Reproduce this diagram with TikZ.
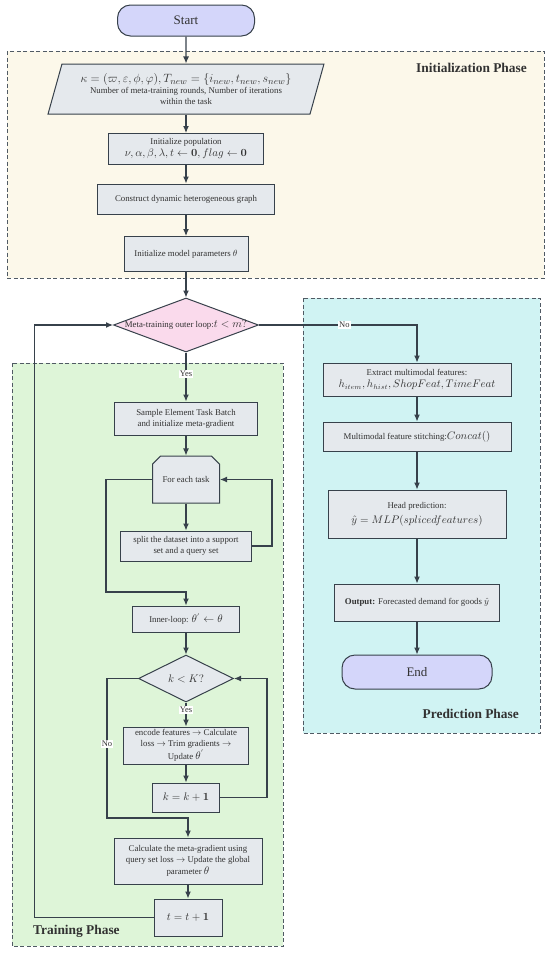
\documentclass[tikz,border=0pt]{standalone}
\usepackage[no-math]{fontspec}
\setmainfont{Liberation Serif}
\usepackage{amsmath, amssymb}
\usetikzlibrary{shapes.geometric, shapes.misc, arrows.meta, positioning, calc}
\definecolor{boxfill}{RGB}{229, 233, 237}
\definecolor{boxline}{RGB}{55, 65, 75}
\definecolor{termfill}{RGB}{212, 214, 250}
\definecolor{loopfill}{RGB}{250, 218, 236}
\definecolor{initfill}{RGB}{252, 248, 234}
\definecolor{trainfill}{RGB}{222, 245, 216}
\definecolor{predfill}{RGB}{208, 243, 243}
\definecolor{phaseline}{RGB}{80, 90, 100}
\definecolor{textgray}{RGB}{50, 50, 50}
\newcommand{\mth}[1]{{\fontsize{10.6}{13}\selectfont$#1$}}
\newcommand{\mbig}[1]{{\fontsize{11}{13}\selectfont$#1$}}

\begin{document}
\begin{tikzpicture}[
  x=1pt, y=-1pt,
  box/.style={draw=boxline, fill=boxfill, line width=1pt, align=center, inner sep=2pt, text=textgray, font=\fontsize{8.8}{11}\selectfont},
  term/.style={box, fill=termfill, rounded corners=13pt, font=\fontsize{13}{15}\selectfont},
  io/.style={box, trapezium, trapezium left angle=71, trapezium right angle=109, trapezium stretches=true},
  decide/.style={box, diamond, inner sep=0pt},
  loophead/.style={box, chamfered rectangle, chamfered rectangle corners={north west, north east}, chamfered rectangle xsep=9pt},
  phase/.style={draw=phaseline, dash pattern=on 4pt off 2.5pt, line width=1pt},
  phaselbl/.style={inner sep=0pt, text=textgray, font=\fontsize{13.4}{15}\selectfont\bfseries},
  arr/.style={-{Latex[length=7pt,width=6pt]}, line width=1.1pt, draw=boxline},
  lbl/.style={fill=white, inner sep=1pt, text=textgray, font=\fontsize{8.5}{10}\selectfont}
]
  \useasboundingbox (0,0) rectangle (550,953);

  \draw[phase, fill=initfill] (7,51) rectangle (544,278);
  \draw[phase, fill=trainfill] (12,363) rectangle (283,946);
  \draw[phase, fill=predfill] (303,298) rectangle (540,733);
  \node[phaselbl, anchor=east] (initlbl) at (527,68) {Initialization Phase};
  \node[phaselbl, anchor=west] (trainlbl) at (33,931) {Training Phase};
  \node[phaselbl, anchor=east] (predlbl) at (519,714) {Prediction Phase};

  \node[term, minimum width=137, minimum height=31] (start) at (186,20.5) {Start};
  \node[io, minimum width=276, minimum height=50] (params) at (186,89) {
    {\fontsize{12.2}{14}\selectfont$\kappa = (\varpi, \varepsilon, \phi, \varphi), T_{new} = \{i_{new}, t_{new}, s_{new}\}$}\\
    Number of meta-training rounds, Number of iterations\\
    within the task
  };
  \node[box, minimum width=155, minimum height=31] (initpop) at (186,149) {
    Initialize population\\[1pt]
    \mbig{\nu, \alpha, \beta, \lambda, t \leftarrow \mathbf{0}, flag \leftarrow \mathbf{0}}
  };
  \node[box, minimum width=177, minimum height=30] (graph) at (186,199) {Construct dynamic heterogeneous graph};
  \node[box, minimum width=124, minimum height=35] (initmodel) at (186,254) {Initialize model parameters $\theta$};

  \node[decide, fill=loopfill, aspect=2.7, minimum width=145, minimum height=54, inner xsep=-8pt] (outer) at (186,325) {Meta-training outer loop:\mbig{t < m?}};

  \node[box, minimum width=143, minimum height=33] (sample) at (186,418.5) {
    Sample Element Task Batch\\
    and initialize meta-gradient
  };
  \node[loophead, minimum width=67, minimum height=47] (task) at (186,479.5) {For each task};
  \node[box, minimum width=131, minimum height=30] (split) at (186,546) {
    split the dataset into a support\\
    set and a query set
  };
  \node[box, minimum width=107, minimum height=26] (inner) at (186,619) {Inner-loop: \mbig{\theta^{'} \leftarrow \theta}};
  \node[decide, aspect=2, minimum width=95, minimum height=47] (kcheck) at (186,678.5) {\mbig{k < K?}};
  \node[box, minimum width=125, minimum height=37] (encode) at (186,745.5) {
    encode features $\rightarrow$ Calculate\\
    loss $\rightarrow$ Trim gradients $\rightarrow$\\
    Update \mbig{\theta^{'}}
  };
  \node[box, minimum width=67, minimum height=29] (kinc) at (186,797.5) {\mbig{k = k + \mathbf{1}}};
  \node[box, minimum width=148, minimum height=46] (calc) at (188,861) {
    Calculate the meta-gradient using\\
    query set loss $\rightarrow$ Update the global\\[1pt]
    parameter \mbig{\theta}
  };
  \node[box, minimum width=68, minimum height=37] (tinc) at (188,917.5) {\mbig{t = t + \mathbf{1}}};

  \node[box, minimum width=188, minimum height=33] (extract) at (417,379.5) {
    Extract multimodal features:\\[1pt]
    \mth{h_{item}, h_{hist}, ShopFeat, TimeFeat}
  };
  \node[box, minimum width=188, minimum height=29] (concat) at (417,436.5) {Multimodal feature stitching:\mbig{Concat()}};
  \node[box, minimum width=178, minimum height=48] (head) at (417,514) {
    Head prediction:\\[4pt]
    \mbig{\hat{y} = MLP(splicedfeatures)}
  };
  \node[box, minimum width=165, minimum height=37] (output) at (417,602.5) {\textbf{Output:} Forecasted demand for goods $\hat{y}$};
  \node[term, minimum width=150, minimum height=34] (end) at (417,672) {End};

  \draw[arr] (start) -- (params);
  \draw[arr] (params) -- (initpop);
  \draw[arr] (initpop) -- (graph);
  \draw[arr] (graph) -- (initmodel);
  \draw[arr] (initmodel) -- (outer);
  \draw[arr] (outer) -- node[lbl, pos=0.44] (yesouter) {Yes} (sample);
  \draw[arr] (outer.east) -| node[lbl, pos=0.27] (noouter) {No} (extract.north);
  \draw[arr] (sample) -- (task);
  \draw[arr] (task) -- (split);
  \draw[arr] (split.east) -- ++(20,0) |- (task.east);
  \draw[arr] (task.west) -- ++(-46,0) -- ++(0,112.5) -| (inner.north);
  \draw[arr] (inner) -- (kcheck);
  \draw[arr] (kcheck) -- node[lbl, pos=0.3] (yesk) {Yes} (encode);
  \draw[arr] (encode) -- (kinc);
  \draw[arr] (kinc.east) -- ++(47,0) |- (kcheck.east);
  \draw[arr] (kcheck.west) -- ++(-31,0) -- node[lbl, pos=0.47] (nok) {No} ++(0,139.5) -| (calc.north);
  \draw[arr] (calc) -- (tinc);
  \draw[arr] (tinc.west) -- ++(-119,0) |- (outer.west);
  \draw[arr] (extract) -- (concat);
  \draw[arr] (concat) -- (head);
  \draw[arr] (head) -- (output);
  \draw[arr] (output) -- (end);
\end{tikzpicture}
\end{document}
